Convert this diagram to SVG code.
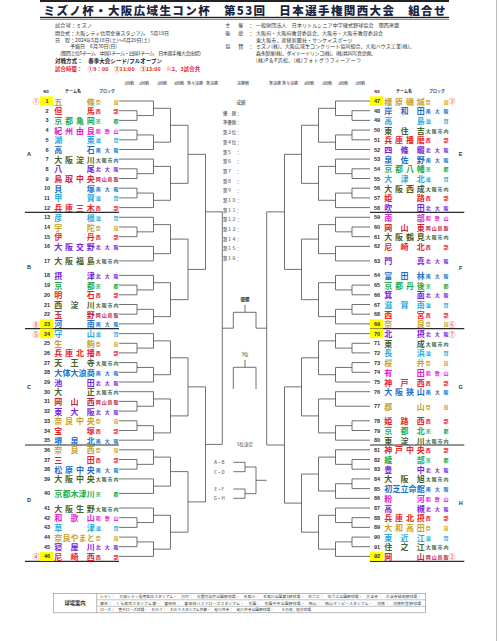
<svg xmlns="http://www.w3.org/2000/svg" width="500" height="641" viewBox="0 0 500 641">
<style>
text{font-family:"Noto Sans CJK JP","Noto Sans",sans-serif;dominant-baseline:central}
.ln{fill:none;stroke:#4d4d4d;stroke-width:0.8}
.sep{stroke:#2a2a2a;stroke-width:1.2}
.no{font-family:"Liberation Sans",sans-serif;font-size:5.5px;font-weight:bold;fill:#333;text-anchor:middle}
.nm{font-size:8px;font-weight:bold;text-anchor:middle}
.bk{font-size:5px;font-weight:bold;text-anchor:middle}
.ci{font-size:7px;fill:#e53935;text-anchor:middle}
.hl{fill:#ffff00}
.inf{font-size:5px;fill:#333}
.hd{font-size:4px;fill:#333;text-anchor:middle}
.blk{font-family:"Liberation Sans",sans-serif;font-size:5.5px;font-weight:bold;fill:#333;text-anchor:middle}
.rk{font-size:4.4px;fill:#333}
.ctr{font-size:4.5px;fill:#333;text-anchor:middle}
.tb{font-size:3.8px;fill:#333}
.nr{fill:#c9a227}.sb{fill:#e8262a}.ky{fill:#1faa4a}.wk{fill:#e020d0}.sg{fill:#29a9e0}.mn{fill:#1e6ec8}.sn{fill:#4a5e2a}.kt{fill:#7a22e0}.ok{fill:#c8283c}
</style>
<rect x="0" y="0" width="500" height="641" fill="#ffffff"/>
<line x1="496.5" y1="0" x2="496.5" y2="641" stroke="#aaa" stroke-width="0.8"/>
<g id="header">
<rect x="40" y="0" width="409" height="2" fill="#222"/>
<text x="43.5" y="9.5" font-size="11.5" font-weight="900" fill="#1c2541" textLength="402" lengthAdjust="spacing">ミズノ杯・大阪広域生コン杯　第53回　日本選手権関西大会　組合せ</text>
<rect x="40" y="16.8" width="409" height="1.4" fill="#222"/>
<line x1="40" y1="19.5" x2="449" y2="19.5" stroke="#444" stroke-width="0.6"/>
<text class="inf" x="55" y="24.3" textLength="37">試合球：ミズノ</text>
<text class="inf" x="55" y="32" textLength="114">開会式：大阪シティ信用金庫スタジアム　5月18日</text>
<text class="inf" x="55" y="39" textLength="95">日　程：2024年5月18日(土)～6月29日(土)</text>
<text class="inf" x="70" y="45.5" textLength="47">予備日　6月30日(日)</text>
<text class="inf" x="57" y="52.3" font-size="4.5" textLength="147">（関西上位5チーム　中国1チーム・四国1チーム　日本選手権大会出場）</text>
<text x="55" y="60.7" font-size="5.5" font-weight="bold" fill="#1a1a2e" textLength="107">対戦方式：　春季大会シード/フルオープン</text>
<text x="55" y="69.3" font-size="5.3" font-weight="bold" fill="#e02020" textLength="145">試合時間：　①9：00　②11:00　③13:00　※2、3試合共</text>
<text class="inf" x="227.7 240.7 250.7" y="24.3" text-anchor="middle">主催：</text>
<text class="inf" x="256" y="24.3" textLength="143">一般財団法人　日本リトルシニア中学硬式野球協会　関西連盟</text>
<text class="inf" x="227.7 240.7 250.7" y="32" text-anchor="middle">後援：</text>
<text class="inf" x="256" y="32" textLength="127">大阪府・大阪府教育委員会、大阪市・大阪市教育委員会</text>
<text class="inf" x="256" y="39" textLength="96.5">東大阪市、産経新聞社・サンケイスポーツ</text>
<text class="inf" x="227.7 240.7 250.7" y="45.3" text-anchor="middle">協賛：</text>
<text class="inf" x="256" y="45.3" textLength="158.5">ミズノ(株)、大阪広域生コンクリート協同組合、大和ハウス工業(株)、</text>
<text class="inf" x="256" y="52.3" textLength="120">森永製菓(株)、ダイドードリンコ(株)、(株)共同写真企画、</text>
<text class="inf" x="256" y="59" textLength="105">(株)P＆P浜松、(株)フォトグラフィーアーラ</text>
<text class="hd" x="129" y="83.3">1回戦</text>
<text class="hd" x="144" y="83.3">2回戦</text>
<text class="hd" x="162" y="83.3">3回戦</text>
<text class="hd" x="179" y="83.3">4回戦</text>
<text class="hd" x="195" y="83.3">準々決勝</text>
<text class="hd" x="212" y="83.3">準決勝</text>
<text class="hd" x="243" y="83.3">決勝戦</text>
<text class="hd" x="275" y="83.3">準決勝</text>
<text class="hd" x="290" y="83.3">準々決勝</text>
<text class="hd" x="309" y="83.3">4回戦</text>
<text class="hd" x="327" y="83.3">3回戦</text>
<text class="hd" x="343" y="83.3">2回戦</text>
<text class="hd" x="360" y="83.3">1回戦</text>
<text class="hd" x="46" y="91" font-weight="bold">No</text>
<text class="hd" x="73" y="91" font-weight="bold">チーム名</text>
<text class="hd" x="107" y="91" font-weight="bold">ブロック</text>
<text class="hd" x="377" y="91" font-weight="bold">No</text>
<text class="hd" x="404" y="91" font-weight="bold">チーム名</text>
<text class="hd" x="437" y="91" font-weight="bold">ブロック</text>
<text class="blk" x="29" y="154">A</text>
<text class="blk" x="29" y="267">B</text>
<text class="blk" x="29" y="387">C</text>
<text class="blk" x="29" y="500">D</text>
<text class="blk" x="460.7" y="154">E</text>
<text class="blk" x="460.7" y="268">F</text>
<text class="blk" x="460.7" y="387">G</text>
<text class="blk" x="460.7" y="503">H</text>
</g>
<g id="separators">
<line class="sep" x1="25" y1="212.4" x2="119" y2="212.4"/>
<line class="sep" x1="25" y1="328.7" x2="119" y2="328.7"/>
<line class="sep" x1="25" y1="445" x2="119" y2="445"/>
<line class="sep" x1="25" y1="561.3" x2="119" y2="561.3"/>
<line class="sep" x1="370" y1="212.4" x2="464.3" y2="212.4"/>
<line class="sep" x1="370" y1="328.7" x2="464.3" y2="328.7"/>
<line class="sep" x1="370" y1="445" x2="464.3" y2="445"/>
<line class="sep" x1="370" y1="561.3" x2="464.3" y2="561.3"/>
</g>
<g id="connectors" class="ln">
<path d="M119 110.7H137V120.4H119"/>
<path d="M119 130.1H137V139.8H119"/>
<path d="M119 168.8H137V178.5H119"/>
<path d="M119 188.2H137V197.9H119"/>
<path d="M119 101H153.5V115.55H137"/>
<path d="M137 134.95H153.5V149.5H119"/>
<path d="M119 159.1H153.5V173.65H137"/>
<path d="M137 193.05H153.5V207.6H119"/>
<path d="M153.5 108.3H170.5V142.2H153.5"/>
<path d="M153.5 166.4H170.5V200.3H153.5"/>
<path d="M170.5 125.25H188V183.35H170.5"/>
<path d="M119 227H137V236.7H119"/>
<path d="M119 217.3H153.5V231.85H137"/>
<path d="M119 246.4H153.5V260.9H119"/>
<path d="M153.5 224.6H170.5V253.65H153.5"/>
<path d="M119 285.1H137V294.8H119"/>
<path d="M119 275.4H153.5V289.95H137"/>
<path d="M119 304.5H137V314.2H119"/>
<path d="M137 309.35H153.5V323.9H119"/>
<path d="M153.5 282.7H170.5V316.6H153.5"/>
<path d="M170.5 239.1H188V299.65H170.5"/>
<path d="M188 154.3H205.5V269.4H188"/>
<path d="M119 343.3H137V352.9H119"/>
<path d="M119 333.6H153.5V348.1H137"/>
<path d="M119 362.6H137V372.3H119"/>
<path d="M137 367.45H153.5V382H119"/>
<path d="M153.5 340.85H170.5V374.7H153.5"/>
<path d="M119 401.4H137V411.1H119"/>
<path d="M119 391.7H153.5V406.25H137"/>
<path d="M119 420.8H137V430.5H119"/>
<path d="M137 425.65H153.5V440.2H119"/>
<path d="M153.5 398.95H170.5V432.9H153.5"/>
<path d="M170.5 357.8H188V415.9H170.5"/>
<path d="M119 459.5H137V469.2H119"/>
<path d="M119 449.8H153.5V464.35H137"/>
<path d="M119 478.9H153.5V493.4H119"/>
<path d="M153.5 457.1H170.5V486.15H153.5"/>
<path d="M119 517.7H137V527.4H119"/>
<path d="M119 508H153.5V522.55H137"/>
<path d="M119 537.1H137V546.7H119"/>
<path d="M137 541.9H153.5V556.4H119"/>
<path d="M153.5 515.3H170.5V549.15H153.5"/>
<path d="M170.5 471.6H188V532.2H170.5"/>
<path d="M188 386.85H205.5V501.9H188"/>
<path d="M205.5 211.85H222.3V444.4H205.5"/>
<path d="M370 110.7H352V120.4H370"/>
<path d="M370 130.1H352V139.8H370"/>
<path d="M370 168.8H352V178.5H370"/>
<path d="M370 188.2H352V197.9H370"/>
<path d="M370 101H335.5V115.55H352"/>
<path d="M352 134.95H335.5V149.5H370"/>
<path d="M370 159.1H335.5V173.65H352"/>
<path d="M352 193.05H335.5V207.6H370"/>
<path d="M335.5 108.3H318.5V142.2H335.5"/>
<path d="M335.5 166.4H318.5V200.3H335.5"/>
<path d="M318.5 125.25H301.5V183.35H318.5"/>
<path d="M370 227H352V236.7H370"/>
<path d="M370 217.3H335.5V231.85H352"/>
<path d="M370 246.4H335.5V260.9H370"/>
<path d="M335.5 224.6H318.5V253.65H335.5"/>
<path d="M370 285.1H352V294.8H370"/>
<path d="M370 275.4H335.5V289.95H352"/>
<path d="M370 304.5H352V314.2H370"/>
<path d="M352 309.35H335.5V323.9H370"/>
<path d="M335.5 282.7H318.5V316.6H335.5"/>
<path d="M318.5 239.1H301.5V299.65H318.5"/>
<path d="M301.5 154.3H284.5V269.4H301.5"/>
<path d="M370 343.3H352V352.9H370"/>
<path d="M370 333.6H335.5V348.1H352"/>
<path d="M370 362.6H352V372.3H370"/>
<path d="M352 367.45H335.5V382H370"/>
<path d="M335.5 340.85H318.5V374.7H335.5"/>
<path d="M370 391.7H335.5V406.2H370"/>
<path d="M370 420.8H352V430.5H370"/>
<path d="M352 425.65H335.5V440.2H370"/>
<path d="M335.5 398.95H318.5V432.9H335.5"/>
<path d="M318.5 357.8H301.5V415.9H318.5"/>
<path d="M370 459.5H352V469.2H370"/>
<path d="M370 449.8H335.5V464.35H352"/>
<path d="M370 478.9H352V488.6H370"/>
<path d="M352 483.75H335.5V498.3H370"/>
<path d="M335.5 457.1H318.5V491H335.5"/>
<path d="M370 517.7H352V527.4H370"/>
<path d="M370 508H335.5V522.55H352"/>
<path d="M370 537.1H352V546.7H370"/>
<path d="M352 541.9H335.5V556.4H370"/>
<path d="M335.5 515.3H318.5V549.15H335.5"/>
<path d="M318.5 474.05H301.5V532.2H318.5"/>
<path d="M301.5 386.85H284.5V503.1H301.5"/>
<path d="M284.5 211.85H266.7V445H284.5"/>
<path d="M222.3 328.2H233.3V312.3H256V328.2H266.7"/>
<path d="M245 305V312.3"/>
<path d="M245 360V367.3"/>
<path d="M233.3 389V367.3H256V389"/>
<path d="M233.3 462.3H245V471.7H233.3"/>
<path d="M233.3 489H245V498.3H233.3"/>
<path d="M245 467H256V493.7H245"/>
<path d="M256 480.3H266.7"/>
</g>
<g id="results">
<text class="ctr" x="241" y="101.5">成績</text>
<text class="rk" x="223" y="112.7" textLength="17.5">優　勝：</text>
<text class="rk" x="223" y="122.4" textLength="17.5">準優勝：</text>
<text class="rk" x="223" y="132.1" textLength="17.5">第３位：</text>
<text class="rk" x="223" y="141.8" textLength="17.5">第４位：</text>
<text class="rk" x="223" y="151.5" textLength="17.5">第５　：</text>
<text class="rk" x="223" y="161.2" textLength="17.5">第６　：</text>
<text class="rk" x="223" y="170.8" textLength="17.5">第７　：</text>
<text class="rk" x="223" y="180.5" textLength="17.5">第８　：</text>
<text class="rk" x="223" y="190.2" textLength="17.5">第９　：</text>
<text class="rk" x="223" y="199.9" textLength="17.5">第１０：</text>
<text class="rk" x="223" y="209.6" textLength="17.5">第１１：</text>
<text class="rk" x="223" y="219.3" textLength="17.5">第１２：</text>
<text class="rk" x="223" y="229" textLength="17.5">第１３：</text>
<text class="rk" x="223" y="238.7" textLength="17.5">第１４：</text>
<text class="rk" x="223" y="248.4" textLength="17.5">第１５：</text>
<text class="rk" x="223" y="258.1" textLength="17.5">第１６：</text>
<text class="ctr" x="245" y="299.3" font-size="5.5" font-weight="bold">優勝</text>
<text class="ctr" x="245" y="354.3">3位</text>
<text class="ctr" x="245" y="444">5位決定</text>
<text class="ctr" x="219.3" y="462.3" font-size="4">A・B</text>
<text class="ctr" x="219.3" y="471.7" font-size="4">C・D</text>
<text class="ctr" x="219.3" y="489" font-size="4">E・F</text>
<text class="ctr" x="219.3" y="498.3" font-size="4">G・H</text>
</g>
<g id="t1" class="nr"><rect class="hl" x="40" y="96.4" width="13.3" height="9.2"/><text class="ci" x="36" y="101">①</text><text class="no" x="47" y="101">1</text><text class="nm" x="58.3 90.7" y="101">五條</text><text class="bk" x="98.3 116" y="101">奈良</text></g>
<g id="t2" class="sb"><text class="no" x="47" y="110.7">2</text><text class="nm" x="58.3 90.7" y="110.7">但馬</text><text class="bk" x="98.3 116" y="110.7">西部</text></g>
<g id="t3" class="ky"><text class="no" x="47" y="120.4">3</text><text class="nm" x="58.3 69.1 79.9 90.7" y="120.4">京都亀岡</text><text class="bk" x="98.3 116" y="120.4">京都</text></g>
<g id="t4" class="wk"><text class="no" x="47" y="130.1">4</text><text class="nm" x="58.3 69.1 79.9 90.7" y="130.1">紀州由良</text><text class="bk" x="98.3 107.2 116" y="130.1">和歌山</text></g>
<g id="t5" class="sg"><text class="no" x="47" y="139.8">5</text><text class="nm" x="58.3 90.7" y="139.8">湖東</text><text class="bk" x="98.3 116" y="139.8">滋賀</text></g>
<g id="t6" class="mn"><text class="no" x="47" y="149.5">6</text><text class="nm" x="58.3 90.7" y="149.5">高石</text><text class="bk" x="98.3 107.2 116" y="149.5">南大阪</text></g>
<g id="t7" class="sn"><text class="no" x="47" y="159.1">7</text><text class="nm" x="58.3 69.1 79.9 90.7" y="159.1">大阪淀川</text><text class="bk" x="98.3 104.2 110.1 116" y="159.1">大阪市内</text></g>
<g id="t8" class="kt"><text class="no" x="47" y="168.8">8</text><text class="nm" x="58.3 90.7" y="168.8">八尾</text><text class="bk" x="98.3 107.2 116" y="168.8">北大阪</text></g>
<g id="t9" class="ok"><text class="no" x="47" y="178.5">9</text><text class="nm" x="58.3 69.1 79.9 90.7" y="178.5">鳥取中央</text><text class="bk" x="98.3 104.2 110.1 116" y="178.5">岡山鳥取</text></g>
<g id="t10" class="mn"><text class="no" x="47" y="188.2">10</text><text class="nm" x="58.3 90.7" y="188.2">貝塚</text><text class="bk" x="98.3 107.2 116" y="188.2">南大阪</text></g>
<g id="t11" class="sg"><text class="no" x="47" y="197.9">11</text><text class="nm" x="58.3 90.7" y="197.9">甲賀</text><text class="bk" x="98.3 116" y="197.9">滋賀</text></g>
<g id="t12" class="sb"><text class="no" x="47" y="207.6">12</text><text class="nm" x="58.3 69.1 79.9 90.7" y="207.6">兵庫三木</text><text class="bk" x="98.3 116" y="207.6">西部</text></g>
<g id="t13" class="sg"><text class="no" x="47" y="217.3">13</text><text class="nm" x="58.3 90.7" y="217.3">彦根</text><text class="bk" x="98.3 116" y="217.3">滋賀</text></g>
<g id="t14" class="nr"><text class="no" x="47" y="227">14</text><text class="nm" x="58.3 90.7" y="227">宇陀</text><text class="bk" x="98.3 116" y="227">奈良</text></g>
<g id="t15" class="sb"><text class="no" x="47" y="236.7">15</text><text class="nm" x="58.3 90.7" y="236.7">伊丹</text><text class="bk" x="98.3 116" y="236.7">西部</text></g>
<g id="t16" class="kt"><text class="no" x="47" y="246.4">16</text><text class="nm" x="58.3 69.1 79.9 90.7" y="246.4">大阪交野</text><text class="bk" x="98.3 107.2 116" y="246.4">北大阪</text></g>
<g id="t17" class="sn"><text class="no" x="47" y="260.9">17</text><text class="nm" x="58.3 69.1 79.9 90.7" y="260.9">大阪福島</text><text class="bk" x="98.3 104.2 110.1 116" y="260.9">大阪市内</text></g>
<g id="t18" class="kt"><text class="no" x="47" y="275.4">18</text><text class="nm" x="58.3 90.7" y="275.4">摂津</text><text class="bk" x="98.3 107.2 116" y="275.4">北大阪</text></g>
<g id="t19" class="ky"><text class="no" x="47" y="285.1">19</text><text class="nm" x="58.3 90.7" y="285.1">京都</text><text class="bk" x="98.3 116" y="285.1">京都</text></g>
<g id="t20" class="sb"><text class="no" x="47" y="294.8">20</text><text class="nm" x="58.3 90.7" y="294.8">明石</text><text class="bk" x="98.3 116" y="294.8">西部</text></g>
<g id="t21" class="sn"><text class="no" x="47" y="304.5">21</text><text class="nm" x="58.3 74.5 90.7" y="304.5">西淀川</text><text class="bk" x="98.3 104.2 110.1 116" y="304.5">大阪市内</text></g>
<g id="t22" class="ok"><text class="no" x="47" y="314.2">22</text><text class="nm" x="58.3 90.7" y="314.2">玉野</text><text class="bk" x="98.3 104.2 110.1 116" y="314.2">岡山鳥取</text></g>
<g id="t23" class="mn"><rect class="hl" x="40" y="319.3" width="13.3" height="9.2"/><text class="ci" x="36" y="323.9">⑧</text><text class="no" x="47" y="323.9">23</text><text class="nm" x="58.3 90.7" y="323.9">河南</text><text class="bk" x="98.3 107.2 116" y="323.9">南大阪</text></g>
<g id="t24" class="sg"><rect class="hl" x="40" y="329" width="13.3" height="9.2"/><text class="ci" x="36" y="333.6">⑤</text><text class="no" x="47" y="333.6">24</text><text class="nm" x="58.3 90.7" y="333.6">守山</text><text class="bk" x="98.3 116" y="333.6">滋賀</text></g>
<g id="t25" class="nr"><text class="no" x="47" y="343.3">25</text><text class="nm" x="58.3 90.7" y="343.3">生駒</text><text class="bk" x="98.3 116" y="343.3">奈良</text></g>
<g id="t26" class="sb"><text class="no" x="47" y="352.9">26</text><text class="nm" x="58.3 69.1 79.9 90.7" y="352.9">兵庫北播</text><text class="bk" x="98.3 116" y="352.9">西部</text></g>
<g id="t27" class="sn"><text class="no" x="47" y="362.6">27</text><text class="nm" x="58.3 74.5 90.7" y="362.6">天王寺</text><text class="bk" x="98.3 104.2 110.1 116" y="362.6">大阪市内</text></g>
<g id="t28" class="mn"><text class="no" x="47" y="372.3">28</text><text class="nm" x="58.3 66.4 74.5 82.6 90.7" y="372.3">大体大浪商</text><text class="bk" x="98.3 107.2 116" y="372.3">南大阪</text></g>
<g id="t29" class="kt"><text class="no" x="47" y="382">29</text><text class="nm" x="58.3 90.7" y="382">池田</text><text class="bk" x="98.3 107.2 116" y="382">北大阪</text></g>
<g id="t30" class="sn"><text class="no" x="47" y="391.7">30</text><text class="nm" x="58.3 90.7" y="391.7">大正</text><text class="bk" x="98.3 104.2 110.1 116" y="391.7">大阪市内</text></g>
<g id="t31" class="ok"><text class="no" x="47" y="401.4">31</text><text class="nm" x="58.3 74.5 90.7" y="401.4">岡山西</text><text class="bk" x="98.3 104.2 110.1 116" y="401.4">岡山鳥取</text></g>
<g id="t32" class="kt"><text class="no" x="47" y="411.1">32</text><text class="nm" x="58.3 74.5 90.7" y="411.1">東大阪</text><text class="bk" x="98.3 107.2 116" y="411.1">北大阪</text></g>
<g id="t33" class="nr"><text class="no" x="47" y="420.8">33</text><text class="nm" x="58.3 69.1 79.9 90.7" y="420.8">奈良中央</text><text class="bk" x="98.3 116" y="420.8">奈良</text></g>
<g id="t34" class="sb"><text class="no" x="47" y="430.5">34</text><text class="nm" x="58.3 90.7" y="430.5">宝塚</text><text class="bk" x="98.3 116" y="430.5">西部</text></g>
<g id="t35" class="mn"><text class="no" x="47" y="440.2">35</text><text class="nm" x="58.3 74.5 90.7" y="440.2">堺泉北</text><text class="bk" x="98.3 107.2 116" y="440.2">南大阪</text></g>
<g id="t36" class="nr"><text class="no" x="47" y="449.8">36</text><text class="nm" x="58.3 74.5 90.7" y="449.8">奈良西</text><text class="bk" x="98.3 116" y="449.8">奈良</text></g>
<g id="t37" class="sb"><text class="no" x="47" y="459.5">37</text><text class="nm" x="58.3 90.7" y="459.5">三田</text><text class="bk" x="98.3 116" y="459.5">西部</text></g>
<g id="t38" class="mn"><text class="no" x="47" y="469.2">38</text><text class="nm" x="58.3 69.1 79.9 90.7" y="469.2">松原中央</text><text class="bk" x="98.3 107.2 116" y="469.2">南大阪</text></g>
<g id="t39" class="sn"><text class="no" x="47" y="478.9">39</text><text class="nm" x="58.3 69.1 79.9 90.7" y="478.9">大阪中央</text><text class="bk" x="98.3 104.2 110.1 116" y="478.9">大阪市内</text></g>
<g id="t40" class="ky"><text class="no" x="47" y="493.4">40</text><text class="nm" x="58.3 66.4 74.5 82.6 90.7" y="493.4">京都木津川</text><text class="bk" x="98.3 116" y="493.4">京都</text></g>
<g id="t41" class="sn"><text class="no" x="47" y="508">41</text><text class="nm" x="58.3 69.1 79.9 90.7" y="508">大阪生野</text><text class="bk" x="98.3 104.2 110.1 116" y="508">大阪市内</text></g>
<g id="t42" class="wk"><text class="no" x="47" y="517.7">42</text><text class="nm" x="58.3 74.5 90.7" y="517.7">和歌山</text><text class="bk" x="98.3 107.2 116" y="517.7">和歌山</text></g>
<g id="t43" class="sg"><text class="no" x="47" y="527.4">43</text><text class="nm" x="58.3 90.7" y="527.4">草津</text><text class="bk" x="98.3 116" y="527.4">滋賀</text></g>
<g id="t44" class="nr"><text class="no" x="47" y="537.1">44</text><text class="nm" x="58.3 66.4 74.5 82.6 90.7" y="537.1">奈良やまと</text><text class="bk" x="98.3 116" y="537.1">奈良</text></g>
<g id="t45" class="kt"><text class="no" x="47" y="546.7">45</text><text class="nm" x="58.3 74.5 90.7" y="546.7">寝屋川</text><text class="bk" x="98.3 107.2 116" y="546.7">北大阪</text></g>
<g id="t46" class="sb"><rect class="hl" x="40" y="551.8" width="13.3" height="9.2"/><text class="ci" x="36" y="556.4">④</text><text class="no" x="47" y="556.4">46</text><text class="nm" x="58.3 74.5 90.7" y="556.4">尼崎西</text><text class="bk" x="98.3 116" y="556.4">西部</text></g>
<g id="t47" class="nr"><rect class="hl" x="370" y="96.4" width="13.3" height="9.2"/><text class="no" x="377" y="101">47</text><text class="nm" x="388.3 399.1 409.9 420.7" y="101">橿原磯城</text><text class="bk" x="428.3 446" y="101">奈良</text><text class="ci" x="452" y="101">③</text></g>
<g id="t48" class="mn"><text class="no" x="377" y="110.7">48</text><text class="nm" x="388.3 404.5 420.7" y="110.7">岸和田</text><text class="bk" x="428.3 437.2 446" y="110.7">南大阪</text></g>
<g id="t49" class="sg"><text class="no" x="377" y="120.4">49</text><text class="nm" x="388.3 420.7" y="120.4">高島</text><text class="bk" x="428.3 446" y="120.4">滋賀</text></g>
<g id="t50" class="sn"><text class="no" x="377" y="130.1">50</text><text class="nm" x="388.3 404.5 420.7" y="130.1">東住吉</text><text class="bk" x="428.3 434.2 440.1 446" y="130.1">大阪市内</text></g>
<g id="t51" class="sb"><text class="no" x="377" y="139.8">51</text><text class="nm" x="388.3 399.1 409.9 420.7" y="139.8">兵庫播磨</text><text class="bk" x="428.3 446" y="139.8">西部</text></g>
<g id="t52" class="kt"><text class="no" x="377" y="149.5">52</text><text class="nm" x="388.3 404.5 420.7" y="149.5">四條畷</text><text class="bk" x="428.3 437.2 446" y="149.5">北大阪</text></g>
<g id="t53" class="mn"><text class="no" x="377" y="159.1">53</text><text class="nm" x="388.3 404.5 420.7" y="159.1">泉佐野</text><text class="bk" x="428.3 437.2 446" y="159.1">南大阪</text></g>
<g id="t54" class="ky"><text class="no" x="377" y="168.8">54</text><text class="nm" x="388.3 399.1 409.9 420.7" y="168.8">京都八幡</text><text class="bk" x="428.3 446" y="168.8">京都</text></g>
<g id="t55" class="sg"><text class="no" x="377" y="178.5">55</text><text class="nm" x="388.3 404.5 420.7" y="178.5">大津北</text><text class="bk" x="428.3 446" y="178.5">滋賀</text></g>
<g id="t56" class="sn"><text class="no" x="377" y="188.2">56</text><text class="nm" x="388.3 399.1 409.9 420.7" y="188.2">大阪西成</text><text class="bk" x="428.3 434.2 440.1 446" y="188.2">大阪市内</text></g>
<g id="t57" class="sb"><text class="no" x="377" y="197.9">57</text><text class="nm" x="388.3 420.7" y="197.9">姫路</text><text class="bk" x="428.3 446" y="197.9">西部</text></g>
<g id="t58" class="kt"><text class="no" x="377" y="207.6">58</text><text class="nm" x="388.3 420.7" y="207.6">吹田</text><text class="bk" x="428.3 437.2 446" y="207.6">北大阪</text></g>
<g id="t59" class="wk"><text class="no" x="377" y="217.3">59</text><text class="nm" x="388.3 420.7" y="217.3">南部</text><text class="bk" x="428.3 437.2 446" y="217.3">和歌山</text></g>
<g id="t60" class="ok"><text class="no" x="377" y="227">60</text><text class="nm" x="388.3 404.5 420.7" y="227">岡山東</text><text class="bk" x="428.3 434.2 440.1 446" y="227">岡山鳥取</text></g>
<g id="t61" class="sn"><text class="no" x="377" y="236.7">61</text><text class="nm" x="388.3 399.1 409.9 420.7" y="236.7">大阪鶴見</text><text class="bk" x="428.3 434.2 440.1 446" y="236.7">大阪市内</text></g>
<g id="t62" class="sb"><text class="no" x="377" y="246.4">62</text><text class="nm" x="388.3 404.5 420.7" y="246.4">尼崎北</text><text class="bk" x="428.3 446" y="246.4">西部</text></g>
<g id="t63" class="kt"><text class="no" x="377" y="260.9">63</text><text class="nm" x="388.3 420.7" y="260.9">門真</text><text class="bk" x="428.3 437.2 446" y="260.9">北大阪</text></g>
<g id="t64" class="mn"><text class="no" x="377" y="275.4">64</text><text class="nm" x="388.3 404.5 420.7" y="275.4">富田林</text><text class="bk" x="428.3 437.2 446" y="275.4">南大阪</text></g>
<g id="t65" class="ky"><text class="no" x="377" y="285.1">65</text><text class="nm" x="388.3 399.1 409.9 420.7" y="285.1">京都丹後</text><text class="bk" x="428.3 446" y="285.1">京都</text></g>
<g id="t66" class="kt"><text class="no" x="377" y="294.8">66</text><text class="nm" x="388.3 420.7" y="294.8">箕面</text><text class="bk" x="428.3 437.2 446" y="294.8">北大阪</text></g>
<g id="t67" class="sg"><text class="no" x="377" y="304.5">67</text><text class="nm" x="388.3 404.5 420.7" y="304.5">滋賀南</text><text class="bk" x="428.3 446" y="304.5">滋賀</text></g>
<g id="t68" class="sb"><text class="no" x="377" y="314.2">68</text><text class="nm" x="388.3 420.7" y="314.2">西宮</text><text class="bk" x="428.3 446" y="314.2">西部</text></g>
<g id="t69" class="nr"><rect class="hl" x="370" y="319.3" width="13.3" height="9.2"/><text class="no" x="377" y="323.9">69</text><text class="nm" x="388.3 420.7" y="323.9">奈良</text><text class="bk" x="428.3 446" y="323.9">奈良</text><text class="ci" x="452" y="323.9">⑥</text></g>
<g id="t70" class="kt"><rect class="hl" x="370" y="329" width="13.3" height="9.2"/><text class="no" x="377" y="333.6">70</text><text class="nm" x="388.3 420.7" y="333.6">北摂</text><text class="bk" x="428.3 437.2 446" y="333.6">北大阪</text><text class="ci" x="452" y="333.6">⑦</text></g>
<g id="t71" class="sn"><text class="no" x="377" y="343.3">71</text><text class="nm" x="388.3 420.7" y="343.3">東成</text><text class="bk" x="428.3 434.2 440.1 446" y="343.3">大阪市内</text></g>
<g id="t72" class="sg"><text class="no" x="377" y="352.9">72</text><text class="nm" x="388.3 420.7" y="352.9">長浜</text><text class="bk" x="428.3 446" y="352.9">滋賀</text></g>
<g id="t73" class="nr"><text class="no" x="377" y="362.6">73</text><text class="nm" x="388.3 420.7" y="362.6">桜井</text><text class="bk" x="428.3 446" y="362.6">奈良</text></g>
<g id="t74" class="wk"><text class="no" x="377" y="372.3">74</text><text class="nm" x="388.3 420.7" y="372.3">有田</text><text class="bk" x="428.3 437.2 446" y="372.3">和歌山</text></g>
<g id="t75" class="sb"><text class="no" x="377" y="382">75</text><text class="nm" x="388.3 404.5 420.7" y="382">神戸西</text><text class="bk" x="428.3 446" y="382">西部</text></g>
<g id="t76" class="mn"><text class="no" x="377" y="391.7">76</text><text class="nm" x="388.3 399.1 409.9 420.7" y="391.7">大阪狭山</text><text class="bk" x="428.3 437.2 446" y="391.7">南大阪</text></g>
<g id="t77" class="nr"><text class="no" x="377" y="406.2">77</text><text class="nm" x="388.3 420.7" y="406.2">郡山</text><text class="bk" x="428.3 446" y="406.2">奈良</text></g>
<g id="t78" class="sb"><text class="no" x="377" y="420.8">78</text><text class="nm" x="388.3 404.5 420.7" y="420.8">姫路西</text><text class="bk" x="428.3 446" y="420.8">西部</text></g>
<g id="t79" class="ky"><text class="no" x="377" y="430.5">79</text><text class="nm" x="388.3 404.5 420.7" y="430.5">京都北</text><text class="bk" x="428.3 446" y="430.5">京都</text></g>
<g id="t80" class="sn"><text class="no" x="377" y="440.2">80</text><text class="nm" x="388.3 404.5 420.7" y="440.2">東淀川</text><text class="bk" x="428.3 434.2 440.1 446" y="440.2">大阪市内</text></g>
<g id="t81" class="sb"><text class="no" x="377" y="449.8">81</text><text class="nm" x="388.3 399.1 409.9 420.7" y="449.8">神戸中央</text><text class="bk" x="428.3 446" y="449.8">西部</text></g>
<g id="t82" class="ky"><text class="no" x="377" y="459.5">82</text><text class="nm" x="388.3 420.7" y="459.5">綾部</text><text class="bk" x="428.3 446" y="459.5">京都</text></g>
<g id="t83" class="kt"><text class="no" x="377" y="469.2">83</text><text class="nm" x="388.3 420.7" y="469.2">豊中</text><text class="bk" x="428.3 437.2 446" y="469.2">北大阪</text></g>
<g id="t84" class="sn"><text class="no" x="377" y="478.9">84</text><text class="nm" x="388.3 404.5 420.7" y="478.9">大阪旭</text><text class="bk" x="428.3 434.2 440.1 446" y="478.9">大阪市内</text></g>
<g id="t85" class="mn"><text class="no" x="377" y="488.6">85</text><text class="nm" x="388.3 396.4 404.5 412.6 420.7" y="488.6">初芝立命館</text><text class="bk" x="428.3 437.2 446" y="488.6">南大阪</text></g>
<g id="t86" class="wk"><text class="no" x="377" y="498.3">86</text><text class="nm" x="388.3 420.7" y="498.3">粉河</text><text class="bk" x="428.3 437.2 446" y="498.3">和歌山</text></g>
<g id="t87" class="kt"><text class="no" x="377" y="508">87</text><text class="nm" x="388.3 420.7" y="508">高槻</text><text class="bk" x="428.3 437.2 446" y="508">北大阪</text></g>
<g id="t88" class="sb"><text class="no" x="377" y="517.7">88</text><text class="nm" x="388.3 399.1 409.9 420.7" y="517.7">兵庫北摂</text><text class="bk" x="428.3 446" y="517.7">西部</text></g>
<g id="t89" class="nr"><text class="no" x="377" y="527.4">89</text><text class="nm" x="388.3 399.1 409.9 420.7" y="527.4">大和高田</text><text class="bk" x="428.3 446" y="527.4">奈良</text></g>
<g id="t90" class="sg"><text class="no" x="377" y="537.1">90</text><text class="nm" x="388.3 404.5 420.7" y="537.1">東近江</text><text class="bk" x="428.3 446" y="537.1">滋賀</text></g>
<g id="t91" class="sn"><text class="no" x="377" y="546.7">91</text><text class="nm" x="388.3 404.5 420.7" y="546.7">住之江</text><text class="bk" x="428.3 434.2 440.1 446" y="546.7">大阪市内</text></g>
<g id="t92" class="ok"><rect class="hl" x="370" y="551.8" width="13.3" height="9.2"/><text class="no" x="377" y="556.4">92</text><text class="nm" x="388.3 420.7" y="556.4">岡山</text><text class="bk" x="428.3 434.2 440.1 446" y="556.4">岡山鳥取</text><text class="ci" x="452" y="556.4">②</text></g>
<g id="venues">
<rect x="53.3" y="593.3" width="372.4" height="19.5" fill="none" stroke="#888" stroke-width="0.6"/>
<line x1="96.7" y1="593.3" x2="96.7" y2="612.8" stroke="#888" stroke-width="0.6"/>
<line x1="96.7" y1="599.8" x2="425.7" y2="599.8" stroke="#888" stroke-width="0.5"/>
<line x1="96.7" y1="606.3" x2="425.7" y2="606.3" stroke="#888" stroke-width="0.5"/>
<text x="75" y="603" font-size="5.3" font-weight="bold" fill="#333" text-anchor="middle">球場案内</text>
<text class="tb" x="100" y="596.6" textLength="321">シティ：　大阪シティ信用金庫スタジアム・　万博：　万国博記念公園野球場・　毛馬川：　毛馬川公園第1野球場・　住之江：　住之江公園野球場・　久宝寺：　久宝寺緑地野球場・</text>
<text class="tb" x="100" y="603.1" textLength="321">堺市：　くら寿司スタジアム堺・　富田林：　富田林バファローズスタジアム・　花園：　花園中央公園野球場・　岡山：　岡山マッピースタジアム・　河南：　河南町営野球場</text>
<text class="tb" x="100" y="609.6" textLength="211">ローズ：　豊中ローズ球場・　わかさ：　わかさスタジアム京都・　紀三井寺：　紀三井寺公園野球場・　　その他：地方球場</text>
</g>
</svg>
